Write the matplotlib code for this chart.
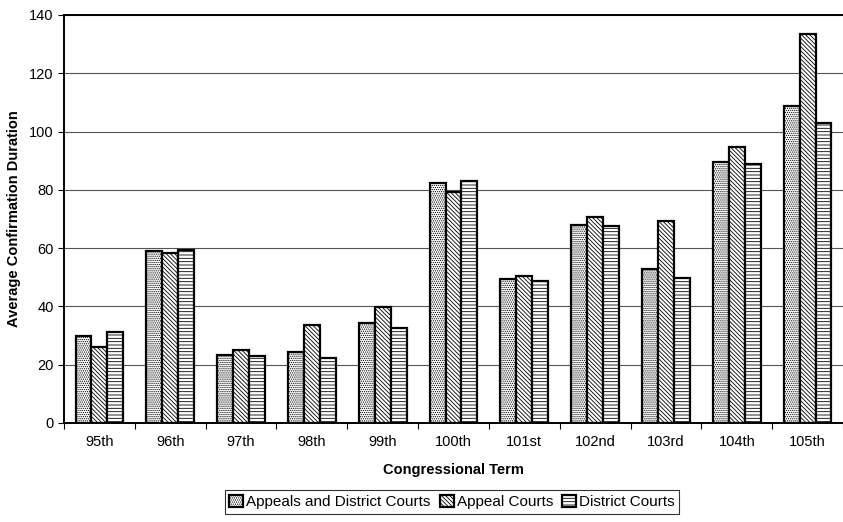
import numpy as np
import matplotlib
matplotlib.use("Agg")
import matplotlib.pyplot as plt

plt.rcParams['font.family'] = ['Liberation Sans', 'DejaVu Sans']
plt.rcParams['hatch.linewidth'] = 0.6

terms = ["95th", "96th", "97th", "98th", "99th", "100th",
         "101st", "102nd", "103rd", "104th", "105th"]
both_courts = [30.0, 59.1, 23.3, 24.4, 34.4, 82.2, 49.4, 68.1, 52.7, 89.5, 108.9]
appeal_courts = [26.2, 58.4, 25.0, 33.6, 39.7, 79.3, 50.6, 70.6, 69.2, 94.6, 133.4]
district_courts = [31.2, 59.4, 23.1, 22.2, 32.5, 82.9, 48.8, 67.6, 49.9, 88.8, 103.0]

series = [
    ("Appeals and District Courts", both_courts, "........"),
    ("Appeal Courts", appeal_courts, "\\" * 8),
    ("District Courts", district_courts, "-----"),
]

fig = plt.figure(figsize=(8.43, 5.22), dpi=100)
ax = fig.add_axes([64 / 843, 1 - 423 / 522, 779 / 843, 408 / 522])

x = np.arange(len(terms))
width = 0.225
for i, (name, vals, hatch) in enumerate(series):
    ax.bar(x + (i - 1) * width, vals, width, label=name, color="white",
           edgecolor="black", linewidth=1.6, hatch=hatch, zorder=3)

ax.set_xlim(-0.5, len(terms) - 0.5)
ax.set_ylim(0, 140)
ax.set_yticks(range(0, 141, 20))
ax.set_xticks(x)
ax.set_xticklabels(terms, fontsize=10.5)
ax.set_xticks(np.arange(-0.5, len(terms)), minor=True)
ax.tick_params(axis='x', which='major', length=0, pad=9)
ax.tick_params(axis='x', which='minor', length=4, width=0.8, direction='out')
ax.tick_params(axis='y', length=4, width=0.8, labelsize=10.5)
ax.yaxis.grid(True, color="#555555", linewidth=0.8, zorder=0)
ax.set_axisbelow(True)

for side in ["left", "bottom", "top"]:
    ax.spines[side].set_linewidth(1.4)
ax.spines["right"].set_visible(False)

ax.set_xlabel("Congressional Term", fontsize=10.5, fontweight="bold", labelpad=10)
ax.set_ylabel("Average Confirmation Duration", fontsize=10.5, fontweight="bold", labelpad=6)

leg = ax.legend(loc="upper center", bbox_to_anchor=(452 / 843, 32 / 522),
                bbox_transform=fig.transFigure, ncol=3, frameon=True,
                fancybox=False, edgecolor="black", fontsize=11,
                handlelength=0.9, handleheight=0.9, handletextpad=0.2,
                columnspacing=0.6, borderpad=0.3, borderaxespad=0)
leg.get_frame().set_linewidth(0.8)

fig.savefig("out.png", dpi=100)
